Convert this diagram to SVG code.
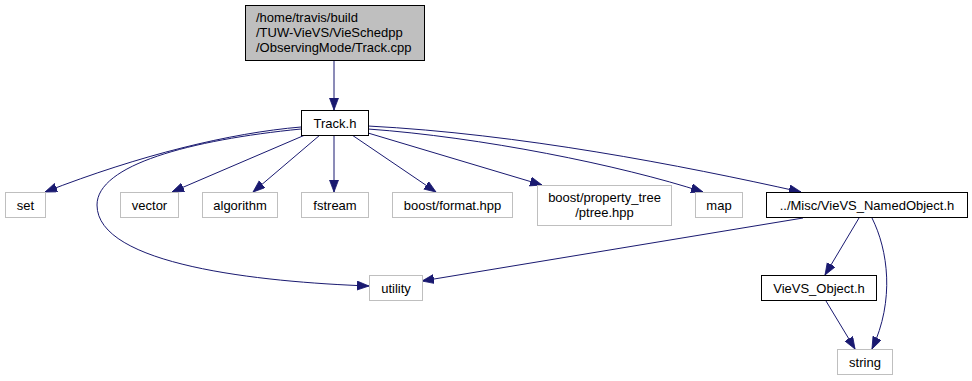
<svg xmlns="http://www.w3.org/2000/svg" width="972" height="381" viewBox="0 0 972 381">
  <style>
    text { font-family: "Liberation Sans", Arial, Helvetica, sans-serif; font-size: 13px; fill: #000; }
    .mid { text-anchor: middle; }
    .box { fill: #fff; stroke: #000; stroke-width: 1; }
    .ext { fill: #fff; stroke: #bfbfbf; stroke-width: 1; }
    .root { fill: #bfbfbf; stroke: #000; stroke-width: 1; }
    .edge { fill: none; stroke: #191970; stroke-width: 1; marker-end: url(#arrow); }
  </style>
  <defs>
    <marker id="arrow" markerUnits="userSpaceOnUse" markerWidth="13" markerHeight="10" refX="12" refY="4.5" orient="auto">
      <path d="M0,0 L12,4.5 L0,9 z" fill="#191970" stroke="#191970" stroke-width="0.8"/>
    </marker>
  </defs>

  <rect width="972" height="381" fill="#fff"/>

  <!-- dependency edges -->
  <g id="edges">
    <path class="edge" d="M334,61 L334,110"/>
    <path class="edge" d="M301,127 C 230,133 140,155 45,192"/>
    <path class="edge" d="M301,129 C 190,140 97,165 97,205 C 97,265 260,282 369,286"/>
    <path class="edge" d="M305,135 L172,192"/>
    <path class="edge" d="M320,135 L253,192"/>
    <path class="edge" d="M334,135 L334,192"/>
    <path class="edge" d="M352,135 L436,192"/>
    <path class="edge" d="M368,133 L542,185"/>
    <path class="edge" d="M368,129 C 480,137 620,165 703,192"/>
    <path class="edge" d="M368,126 C 520,134 680,165 801,192"/>
    <path class="edge" d="M803,218 L422,281"/>
    <path class="edge" d="M859,218 L825,275"/>
    <path class="edge" d="M872,218 C 888,250 895,300 872,349"/>
    <path class="edge" d="M826,301 L855,349"/>
  </g>

  <g id="node-track-cpp">
    <rect class="root" x="245.5" y="5.5" width="179" height="55"/>
    <text x="256" y="21.5">/home/travis/build</text>
    <text x="256" y="36.5">/TUW-VieVS/VieSchedpp</text>
    <text x="256" y="51.5">/ObservingMode/Track.cpp</text>
  </g>

  <g id="node-track-h">
    <rect class="box" x="301.5" y="110.5" width="67" height="25"/>
    <text class="mid" x="335" y="127.5">Track.h</text>
  </g>

  <g id="node-set">
    <rect class="ext" x="5.5" y="192.5" width="40" height="25"/>
    <text class="mid" x="25.5" y="209.5">set</text>
  </g>

  <g id="node-vector">
    <rect class="ext" x="120.5" y="192.5" width="58" height="25"/>
    <text class="mid" x="149.5" y="209.5">vector</text>
  </g>

  <g id="node-algorithm">
    <rect class="ext" x="202.5" y="192.5" width="75" height="25"/>
    <text class="mid" x="240" y="209.5">algorithm</text>
  </g>

  <g id="node-fstream">
    <rect class="ext" x="301.5" y="192.5" width="67" height="25"/>
    <text class="mid" x="335" y="209.5">fstream</text>
  </g>

  <g id="node-boost-format">
    <rect class="ext" x="392.5" y="192.5" width="120" height="25"/>
    <text class="mid" x="452.5" y="209.5">boost/format.hpp</text>
  </g>

  <g id="node-ptree">
    <rect class="ext" x="537.5" y="185.5" width="134" height="40"/>
    <text class="mid" x="604.5" y="202">boost/property_tree</text>
    <text class="mid" x="604.5" y="217">/ptree.hpp</text>
  </g>

  <g id="node-map">
    <rect class="ext" x="695.5" y="192.5" width="47" height="25"/>
    <text class="mid" x="719" y="209.5">map</text>
  </g>

  <g id="node-named-object">
    <rect class="box" x="766.5" y="192.5" width="201" height="25"/>
    <text class="mid" x="867" y="209.5">../Misc/VieVS_NamedObject.h</text>
  </g>

  <g id="node-utility">
    <rect class="ext" x="369.5" y="275.5" width="53" height="25"/>
    <text class="mid" x="396" y="292.5">utility</text>
  </g>

  <g id="node-object">
    <rect class="box" x="761.5" y="275.5" width="115" height="25"/>
    <text class="mid" x="819" y="292.5">VieVS_Object.h</text>
  </g>

  <g id="node-string">
    <rect class="ext" x="837.5" y="349.5" width="55" height="25"/>
    <text class="mid" x="865" y="366.5">string</text>
  </g>
</svg>
